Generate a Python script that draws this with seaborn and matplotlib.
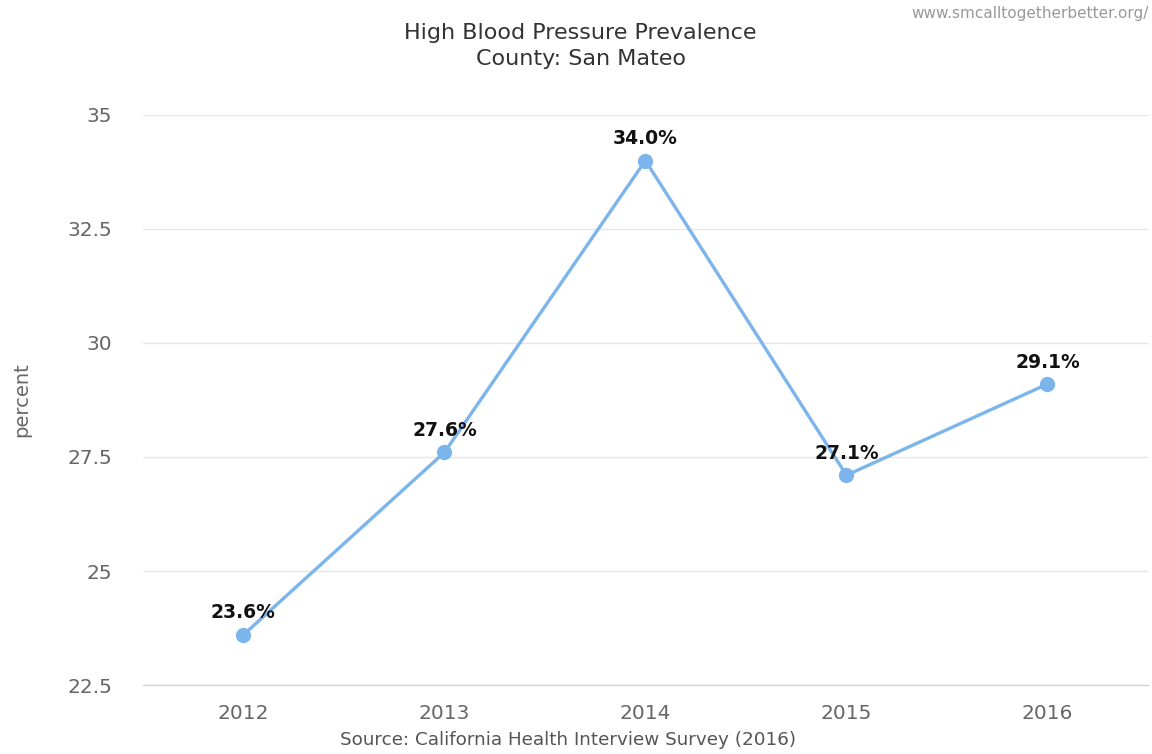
import pandas as pd
import seaborn as sns
import matplotlib.pyplot as plt

years = ["2012", "2013", "2014", "2015", "2016"]
prevalence = [23.6, 27.6, 34.0, 27.1, 29.1]
y_ticks = [22.5, 25, 27.5, 30, 32.5, 35]

title = "High Blood Pressure Prevalence\nCounty: San Mateo"
source = "Source: California Health Interview Survey (2016)"
credit = "www.smcalltogetherbetter.org/"

df = pd.DataFrame({"year": years, "percent": prevalence})

sns.set_style("white")
plt.rcParams["font.family"] = ["DejaVu Sans"]

fig = plt.figure(figsize=(11.52, 7.54), dpi=100)
ax = fig.add_axes([0.124, 0.0915, 0.8725, 0.756])

sns.lineplot(data=df, x="year", y="percent", ax=ax, color="#7cb5ec",
             linewidth=2.4, marker="o", markersize=11, markeredgewidth=0)

for i, v in enumerate(prevalence):
    ax.annotate("%.1f%%" % v, (i, v), xytext=(0, 9), textcoords="offset points",
                ha="center", va="bottom", fontsize=13.5, fontweight="bold", color="#111111")

ax.set_xlim(-0.5, len(years) - 0.5)
ax.set_ylim(22.5, 35)
ax.set_yticks(y_ticks)
ax.set_yticklabels(["%g" % t for t in y_ticks])
ax.grid(axis="y", color="#e6e6e6", linewidth=1)
ax.set_axisbelow(True)
for s in ["top", "right", "left"]:
    ax.spines[s].set_visible(False)
ax.spines["bottom"].set_color("#ccd6eb")
ax.spines["bottom"].set_linewidth(1)
ax.tick_params(axis="both", length=0, labelsize=14.5, colors="#666666")
ax.tick_params(axis="y", pad=22)
ax.tick_params(axis="x", pad=14)

ax.set_xlabel("")
ax.set_ylabel("percent", fontsize=14, color="#666666", labelpad=26)

fig.text(0.493, 0.006, source, ha="center", va="bottom", fontsize=13.2, color="#555555")
fig.text(0.504, 0.969, title, ha="center", va="top", fontsize=16,
         color="#333333", linespacing=1.38)
fig.text(0.997, 0.992, credit, ha="right", va="top", fontsize=11, color="#999999")

plt.savefig("out.png", dpi=100)
plt.close()
